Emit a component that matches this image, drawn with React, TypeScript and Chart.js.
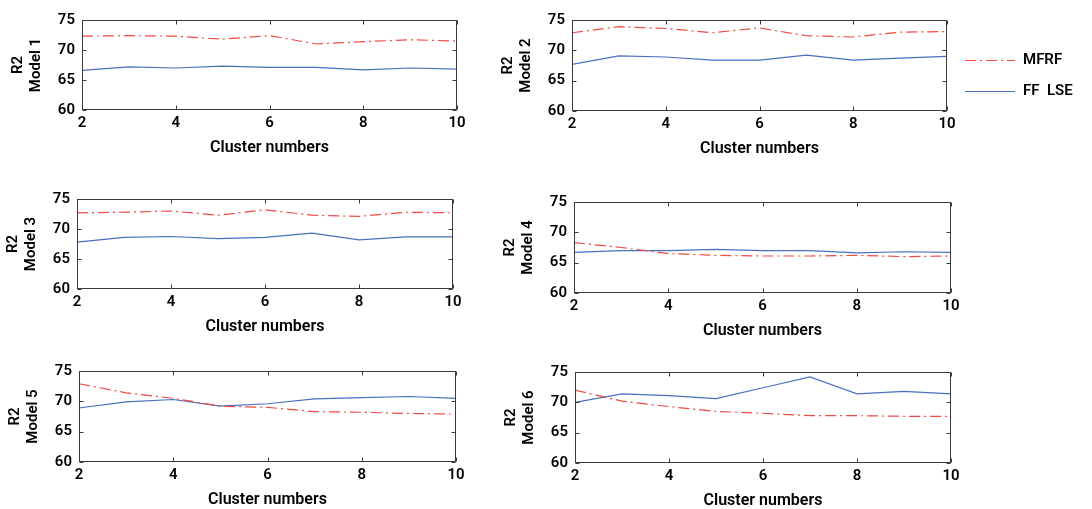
import React, { useEffect, useRef } from "react";
import { Chart, registerables } from "chart.js";

Chart.register(...registerables);

// ---------- data ----------
const clusters = [2, 3, 4, 5, 6, 7, 8, 9, 10];
const xTicks = [2, 4, 6, 8, 10];
const yTicks = [60, 65, 70, 75];
const seriesNames = ["MFRF", "FF  LSE"];
const panelTitles = ["Model 1", "Model 2", "Model 3", "Model 4", "Model 5", "Model 6"];

const mfrf1 = [72.3, 72.4, 72.3, 71.8, 72.4, 71.0, 71.4, 71.7, 71.5];
const ffLse1 = [66.6, 67.2, 67.0, 67.3, 67.1, 67.1, 66.7, 67.0, 66.8];
const mfrf2 = [72.9, 73.9, 73.6, 72.9, 73.7, 72.4, 72.2, 73.0, 73.1];
const ffLse2 = [67.7, 69.1, 68.9, 68.4, 68.4, 69.2, 68.4, 68.7, 69.0];
const mfrf3 = [72.7, 72.8, 73.0, 72.3, 73.2, 72.3, 72.1, 72.8, 72.7];
const ffLse3 = [67.8, 68.6, 68.75, 68.4, 68.6, 69.3, 68.2, 68.7, 68.7];
const mfrf4 = [68.3, 67.5, 66.5, 66.2, 66.1, 66.1, 66.2, 66.0, 66.1];
const ffLse4 = [66.7, 67.0, 67.0, 67.2, 67.0, 67.0, 66.6, 66.8, 66.7];
const mfrf5 = [72.9, 71.4, 70.5, 69.2, 69.0, 68.3, 68.2, 68.0, 67.9];
const ffLse5 = [68.9, 69.9, 70.3, 69.2, 69.6, 70.4, 70.6, 70.8, 70.5];
const mfrf6 = [72.0, 70.2, 69.3, 68.5, 68.2, 67.8, 67.8, 67.7, 67.7];
const ffLse6 = [70.0, 71.4, 71.1, 70.6, 72.4, 74.2, 71.4, 71.8, 71.4];

const mfrfAll = [mfrf1, mfrf2, mfrf3, mfrf4, mfrf5, mfrf6];
const ffLseAll = [ffLse1, ffLse2, ffLse3, ffLse4, ffLse5, ffLse6];

// ---------- layout / style ----------
const FONT = "Roboto, 'Noto Sans', sans-serif";
const RED = "#f04a42";
const BLUE = "#4a70c0";
const FRAME = "#3a3a3a";
const Y_W = 80;
const PAD_T = 10;
const X_H = 50;
const PAD_R = 14;

// plot-area rectangles (left, top, right, bottom) in page pixels
const plotBoxes = [
  [81.5, 14, 456, 110],
  [571.5, 14, 946, 111],
  [76.5, 192.5, 452.5, 288.5],
  [573.5, 196, 950.5, 292.5],
  [78.5, 364.5, 455, 461],
  [575, 365.5, 950.5, 462.5],
];

const frameTicks = {
  id: "frameTicks",
  afterDatasetsDraw(chart: any) {
    const { ctx, chartArea: a, scales } = chart;
    const x = scales.x;
    const y = scales.y;
    const L = Math.round(a.left) + 0.5;
    const R = Math.round(a.right) - 0.5;
    const T = Math.round(a.top) + 0.5;
    const B = Math.round(a.bottom) - 0.5;
    ctx.save();
    ctx.strokeStyle = FRAME;
    ctx.lineWidth = 1;
    ctx.strokeRect(L, T, R - L, B - T);
    const len = 4;
    ctx.beginPath();
    x.ticks.forEach((t: any) => {
      const px = Math.round(x.getPixelForValue(t.value)) + 0.5;
      ctx.moveTo(px, B);
      ctx.lineTo(px, B - len);
      ctx.moveTo(px, T);
      ctx.lineTo(px, T + len);
    });
    y.ticks.forEach((t: any) => {
      const py = Math.round(y.getPixelForValue(t.value)) + 0.5;
      ctx.moveTo(L, py);
      ctx.lineTo(L + len, py);
      ctx.moveTo(R, py);
      ctx.lineTo(R - len, py);
    });
    ctx.stroke();
    ctx.restore();
  },
};

const sideLegend = {
  id: "sideLegend",
  afterDraw(chart: any) {
    const opts = chart.options.plugins.sideLegend;
    if (!opts || !opts.show) return;
    const { ctx, chartArea: a } = chart;
    ctx.save();
    chart.data.datasets.forEach((ds: any, i: number) => {
      const yy = Math.round(a.top + 40 + i * 30.5) + 0.5;
      const x0 = a.right + 18;
      ctx.strokeStyle = ds.borderColor;
      ctx.lineWidth = 1.2;
      ctx.setLineDash(ds.borderDash || []);
      ctx.beginPath();
      ctx.moveTo(x0, yy);
      ctx.lineTo(x0 + 50, yy);
      ctx.stroke();
      ctx.setLineDash([]);
      ctx.fillStyle = "#000";
      ctx.font = `600 15px ${FONT}`;
      ctx.textBaseline = "middle";
      ctx.textAlign = "left";
      ctx.fillText(ds.label, x0 + 58, yy);
    });
    ctx.restore();
  },
};

function geom(i: number) {
  const [pl, pt, pr, pb] = plotBoxes[i];
  const left = pl - Y_W;
  const top = pt - PAD_T;
  const right = i === 1 ? 1092 : pr + PAD_R;
  const width = Math.round(right - left);
  const height = Math.round(pb + X_H - top);
  return { left, top, width, height, padRight: right - pr };
}

export default function App() {
  const refs = useRef<(HTMLCanvasElement | null)[]>([]);

  useEffect(() => {
    const charts: Chart[] = [];
    for (let i = 0; i < 6; i++) {
      const cv = refs.current[i];
      if (!cv) continue;
      const g = geom(i);
      const chart = new Chart(cv, {
        type: "line",
        data: {
          datasets: [
            {
              label: seriesNames[0],
              data: clusters.map((c, k) => ({ x: c, y: mfrfAll[i][k] })),
              borderColor: RED,
              borderWidth: 1.2,
              borderDash: [11, 4, 2, 4],
              pointRadius: 0,
              tension: 0,
              fill: false,
            },
            {
              label: seriesNames[1],
              data: clusters.map((c, k) => ({ x: c, y: ffLseAll[i][k] })),
              borderColor: BLUE,
              borderWidth: 1.2,
              pointRadius: 0,
              tension: 0,
              fill: false,
            },
          ],
        },
        options: {
          responsive: false,
          animation: false,
          devicePixelRatio: 1,
          layout: { padding: { left: 0, top: PAD_T, right: g.padRight, bottom: 0 } },
          plugins: {
            legend: { display: false },
            tooltip: { enabled: false },
            sideLegend: { show: i === 1 },
          } as any,
          scales: {
            x: {
              type: "linear",
              min: 2,
              max: 10,
              afterBuildTicks: (s: any) => {
                s.ticks = xTicks.map((v) => ({ value: v }));
              },
              afterFit: (s: any) => {
                s.height = X_H;
              },
              grid: { display: false, drawTicks: false },
              border: { display: false },
              ticks: {
                padding: 4,
                color: "#000",
                font: { family: FONT, size: 15, weight: "600" },
                maxRotation: 0,
              },
              title: {
                display: true,
                text: "Cluster numbers",
                color: "#000",
                font: { family: FONT, size: 16, weight: "600", lineHeight: 1.2 },
                padding: { top: 0, bottom: 2.5 },
              },
            },
            y: {
              type: "linear",
              min: 60,
              max: 75,
              afterBuildTicks: (s: any) => {
                s.ticks = yTicks.map((v) => ({ value: v }));
              },
              afterFit: (s: any) => {
                s.width = Y_W;
              },
              grid: { display: false, drawTicks: false },
              border: { display: false },
              ticks: {
                padding: 7,
                color: "#000",
                font: { family: FONT, size: 15, weight: "600" },
              },
              title: {
                display: true,
                text: ["R2", panelTitles[i]],
                color: "#000",
                font: { family: FONT, size: 15, weight: "600", lineHeight: 1.2 },
                padding: { top: 7.5, bottom: 0 },
              },
            },
          },
        },
        plugins: [frameTicks, sideLegend],
      });
      charts.push(chart);
    }
    return () => charts.forEach((c) => c.destroy());
  }, []);

  return (
    <div style={{ position: "absolute", left: 0, top: 0, width: 1092, height: 509, background: "#fff" }}>
      {plotBoxes.map((_, i) => {
        const g = geom(i);
        return (
          <canvas
            key={i}
            ref={(el) => {
              refs.current[i] = el;
            }}
            width={g.width}
            height={g.height}
            style={{ position: "absolute", left: g.left, top: g.top, width: g.width, height: g.height, display: "block" }}
          />
        );
      })}
    </div>
  );
}
